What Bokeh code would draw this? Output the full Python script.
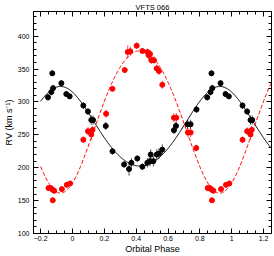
import numpy as np
from bokeh.plotting import figure
from bokeh.models import LinearAxis, Range1d, FixedTicker, CustomJSTickFormatter
from bokeh.embed import file_html
from bokeh.resources import INLINE

title_text = "VFTS 066"
x_label = "Orbital Phase"
y_label = "RV (km s\u207b\u00b9)"

x_ticks = [-0.2, 0, 0.2, 0.4, 0.6, 0.8, 1, 1.2]
y_ticks = [100, 150, 200, 250, 300, 350, 400]

# primary star (black) : orbital phase, RV, error
prim_phase = [0.068, 0.097, 0.118, 0.129, 0.209, 0.251, 0.324, 0.355, 0.370, 0.407,
              0.439, 0.470, 0.487, 0.491, 0.508, 0.529, 0.543, 0.564, 0.637, 0.650,
              0.723, 0.742, 0.779, 0.846, 0.867, 0.873, 0.878, 0.930, 0.961, 0.982]
prim_rv = [294.5, 285.5, 272.5, 272.5, 263.5, 225.0, 205.0, 198.0, 207.5, 214.0,
           201.5, 207.5, 210.0, 220.0, 210.0, 220.0, 221.5, 227.5, 257.0, 263.5,
           266.0, 266.0, 288.5, 307.0, 315.0, 343.5, 321.0, 328.5, 312.0, 308.5]
prim_err = [5, 5, 7, 7, 6, 5, 5, 10, 7, 5,
            5, 7, 8, 8, 8, 8, 8, 8, 6, 6,
            7, 7, 5, 5, 5, 4, 5, 5, 4, 4]

# secondary star (red)
sec_phase = [0.068, 0.097, 0.118, 0.126, 0.211, 0.251, 0.328, 0.347, 0.363, 0.403,
             0.439, 0.470, 0.478, 0.487, 0.495, 0.512, 0.529, 0.543, 0.564, 0.637,
             0.652, 0.725, 0.742, 0.777, 0.849, 0.864, 0.875, 0.876, 0.885, 0.933,
             0.964, 0.985]
sec_rv = [242.5, 255.5, 250.5, 257.5, 282.0, 320.0, 348.5, 376.0, 377.0, 385.5,
          377.5, 376.0, 371.0, 373.0, 363.5, 363.5, 351.0, 347.0, 326.0, 276.0,
          276.0, 253.5, 253.5, 230.0, 169.0, 169.0, 166.5, 150.5, 165.0, 167.5,
          174.0, 176.0]
sec_err = [5, 6, 8, 6, 6, 4, 4, 10, 7, 5,
           4, 5, 6, 6, 6, 6, 6, 6, 6, 7,
           7, 7, 7, 5, 4, 4, 4, 4, 4, 4,
           4, 4]

# orbital solution
ecc = 0.07
phase_peri = 0.925
K1, gamma1 = 60.5, 258.8
K2, gamma2 = 108.25, 277.3

shown_min, shown_max = -0.2, 1.2
curve_start, curve_end = -0.2, 1.25
x_lo, x_hi = -0.245, 1.25
y_lo, y_hi = 100, 437.5


def unfold(phase, rv, err):
    xs, ys, es = [], [], []
    for p, v, e in zip(phase, rv, err):
        for s in (-1, 0, 1):
            q = p + s
            if shown_min <= q <= shown_max:
                xs.append(q); ys.append(v); es.append(e)
    return np.array(xs), np.array(ys), np.array(es)


def rv_model(ph, K, gamma, sign):
    M = 2 * np.pi * (ph - phase_peri)
    E = M.copy()
    for _ in range(40):
        E = E - (E - ecc * np.sin(E) - M) / (1 - ecc * np.cos(E))
    nu = 2 * np.arctan2(np.sqrt(1 + ecc) * np.sin(E / 2), np.sqrt(1 - ecc) * np.cos(E / 2))
    return gamma + sign * K * (np.cos(nu) + ecc)


p = figure(width=274, height=256, x_range=Range1d(x_lo, x_hi), y_range=Range1d(y_lo, y_hi),
           output_backend="svg", toolbar_location=None,
           x_axis_location=None, y_axis_location=None,
           min_border_left=33, min_border_right=3, min_border_top=9, min_border_bottom=22)
p.background_fill_color = "white"
p.border_fill_color = "white"
p.outline_line_color = "black"
p.xgrid.visible = False
p.ygrid.visible = False

p.title.text = title_text
p.title.align = "center"
p.title.text_font = "Liberation Sans"
p.title.text_font_size = "7.5px"
p.title.text_font_style = "normal"
p.title.text_color = "black"
p.title.standoff = 0

xminor = [round(-0.25 + 0.05 * i, 2) for i in range(31)]
yminor = list(range(100, 440, 10))


def make_axis(ticks, minor, loc, show):
    ax = LinearAxis(fixed_location=loc)
    ax.ticker = FixedTicker(ticks=ticks, minor_ticks=minor)
    ax.major_tick_in = 5
    ax.major_tick_out = 0
    ax.minor_tick_in = 3
    ax.minor_tick_out = 0
    ax.axis_line_color = "black"
    ax.major_tick_line_color = "black"
    ax.minor_tick_line_color = "black"
    if show:
        ax.major_label_text_font = "Liberation Sans"
        ax.major_label_text_font_size = "7px"
        ax.major_label_text_color = "black"
        ax.axis_label_text_font = "Liberation Sans"
        ax.axis_label_text_font_size = "9px"
        ax.axis_label_text_font_style = "normal"
        ax.axis_label_text_color = "black"
    else:
        ax.formatter = CustomJSTickFormatter(code="return ''")
        ax.major_label_text_font_size = "1px"
        ax.major_label_standoff = 0
        ax.axis_label_standoff = 0
    return ax


bottom = make_axis(x_ticks, xminor, None, True)
bottom.axis_label = x_label
bottom.major_label_overrides = {0: "0", 1: "1"}
bottom.major_label_standoff = 2
bottom.axis_label_standoff = 0
p.add_layout(bottom, "below")

left = make_axis(y_ticks, yminor, None, True)
left.axis_label = y_label
left.major_label_standoff = 4
left.axis_label_standoff = 1
p.add_layout(left, "left")

top = make_axis(x_ticks, xminor, y_hi, False)
p.add_layout(top, "above")
right = make_axis(y_ticks, yminor, x_hi, False)
p.add_layout(right, "right")

ph = np.linspace(curve_start, curve_end, 400)
p.line(ph, rv_model(ph, K1, gamma1, 1.0), line_color="black", line_width=1)
p.line(ph, rv_model(ph, K2, gamma2, -1.0), line_color="red", line_width=1, line_dash="4 2")

for phase, rv, err, col in ((prim_phase, prim_rv, prim_err, "black"),
                            (sec_phase, sec_rv, sec_err, "red")):
    x, y, e = unfold(phase, rv, err)
    p.segment(x, y - e, x, y + e, line_color=col, line_width=1, line_alpha=0.7)
    p.scatter(x, y, size=5, marker="circle", fill_color=col, line_color=col)

open("out.html", "w").write(file_html(p, INLINE))
